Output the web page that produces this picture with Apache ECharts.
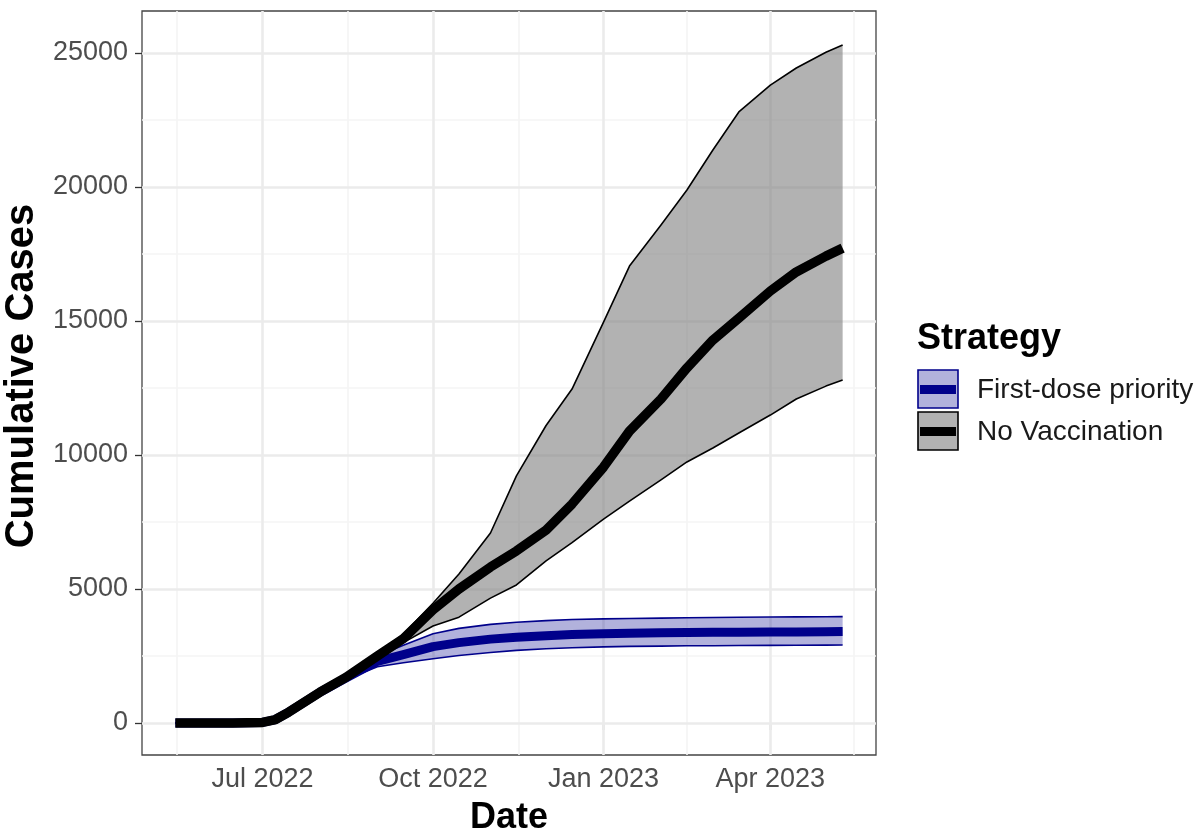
<!DOCTYPE html>
<html>
<head>
<meta charset="utf-8">
<title>Cumulative Cases by Strategy</title>
<script src="https://cdn.jsdelivr.net/npm/echarts@6.0.0/dist/echarts.min.js"></script>
<style>
  html, body { margin: 0; padding: 0; background: #fff; }
  #chart { width: 1198px; height: 830px; }
</style>
</head>
<body>
<div id="chart"></div>
<script>
// sample dates (roughly semi-monthly)
const dates = [
  '2022-05-15', '2022-06-01', '2022-06-15', '2022-07-01', '2022-07-08', '2022-07-15',
  '2022-08-01', '2022-08-15', '2022-09-01', '2022-09-15', '2022-10-01',
  '2022-10-15', '2022-11-01', '2022-11-15', '2022-12-01', '2022-12-15',
  '2023-01-01', '2023-01-15', '2023-02-01', '2023-02-15', '2023-03-01',
  '2023-03-15', '2023-04-01', '2023-04-15', '2023-05-01', '2023-05-10'
];

// No Vaccination
const nvMedian = [0, 0, 0, 20, 130, 400, 1150, 1700, 2500, 3150, 4220, 5000, 5820, 6420, 7200, 8170,
  9550, 10890, 12090, 13250, 14290, 15110, 16120, 16830, 17420, 17720];
const nvLower = [0, 0, 0, 20, 125, 390, 1120, 1650, 2420, 3000, 3620, 3950, 4660, 5150, 6050, 6730,
  7610, 8280, 9070, 9740, 10260, 10820, 11490, 12090, 12570, 12800];
const nvUpper = [0, 0, 0, 20, 140, 420, 1200, 1780, 2620, 3320, 4470, 5560, 7090, 9220, 11100, 12460,
  14960, 17050, 18580, 19890, 21380, 22800, 23800, 24440, 25030, 25300];

// First-dose priority
const fdMedian = [0, 0, 0, 20, 130, 400, 1150, 1680, 2300, 2550, 2850, 3000, 3130, 3200, 3260, 3300,
  3330, 3350, 3365, 3375, 3385, 3390, 3395, 3400, 3405, 3410];
const fdLower = [0, 0, 0, 20, 125, 390, 1110, 1620, 2100, 2250, 2400, 2520, 2630, 2710, 2770, 2810,
  2840, 2860, 2870, 2880, 2885, 2890, 2895, 2900, 2905, 2910];
const fdUpper = [0, 0, 0, 20, 135, 410, 1190, 1720, 2500, 2900, 3330, 3530, 3680, 3760, 3820, 3860,
  3885, 3900, 3915, 3925, 3935, 3945, 3955, 3960, 3965, 3970];

const xTickDates = ['2022-07-01', '2022-10-01', '2023-01-01', '2023-04-01'];
const xTickLabels = ['Jul 2022', 'Oct 2022', 'Jan 2023', 'Apr 2023'];
const xMinorDates = ['2022-05-16', '2022-08-16', '2022-11-16', '2023-02-15', '2023-05-16'];
const yTicks = [0, 5000, 10000, 15000, 20000, 25000];
const yMinor = [2500, 7500, 12500, 17500, 22500];

const FONT = '"Liberation Sans", Arial, Helvetica, sans-serif';
const DARKBLUE = '#00008B';

function ts(s) {
  const p = s.split('-').map(Number);
  return Date.UTC(p[0], p[1] - 1, p[2]);
}
const pairs = (vals) => dates.map((d, i) => [ts(d), vals[i]]);
const xTickValues = xTickDates.map(ts);

// ribbon between lo and hi, drawn once as a polygon through the axis scales
function ribbon(name, lo, hi, fill, stroke, z) {
  return {
    name, type: 'custom', z, silent: true, clip: true,
    data: dates.map((d, i) => [ts(d), lo[i], hi[i]]),
    encode: { x: 0, y: [1, 2] },
    renderItem: (params, api) => {
      if (params.dataIndex !== 0) return;
      const top = dates.map((d, i) => api.coord([ts(d), hi[i]]));
      const bot = dates.map((d, i) => api.coord([ts(d), lo[i]]));
      const line = { stroke, lineWidth: 1.6, fill: null, lineJoin: 'round' };
      return {
        type: 'group',
        children: [
          { type: 'polygon', shape: { points: top.concat(bot.slice().reverse()) }, style: { fill } },
          { type: 'polyline', shape: { points: top }, style: line },
          { type: 'polyline', shape: { points: bot }, style: line }
        ]
      };
    }
  };
}

const chart = echarts.init(document.getElementById('chart'), null, { renderer: 'canvas' });

const gridLine = (color, width) => ({ color, width, type: 'solid' });

const option = {
  animation: false,
  backgroundColor: '#fff',
  textStyle: { fontFamily: FONT },
  grid: {
    left: 142, top: 11, width: 734, height: 744,
    show: true, backgroundColor: '#fff', borderColor: '#444', borderWidth: 1.3,
    outerBoundsMode: 'none'
  },
  xAxis: {
    type: 'value',
    min: ts('2022-04-27'),
    max: ts('2023-05-28'),
    name: 'Date',
    nameLocation: 'middle',
    nameGap: 45,
    nameTextStyle: { fontFamily: FONT, fontSize: 36, fontWeight: 'bold', color: '#000' },
    axisLine: { show: false },
    axisTick: { show: true, length: 7, customValues: xTickValues, lineStyle: { color: '#333', width: 1.3 } },
    axisLabel: {
      customValues: xTickValues,
      margin: 11,
      fontFamily: FONT, fontSize: 27, color: '#4D4D4D',
      formatter: (v) => {
        const i = xTickValues.findIndex((t) => Math.abs(t - v) < 1000);
        return i >= 0 ? xTickLabels[i] : '';
      }
    },
    splitLine: { show: false }
  },
  yAxis: {
    type: 'value',
    min: -1194,
    max: 26567,
    name: 'Cumulative Cases',
    nameLocation: 'middle',
    nameGap: 95,
    nameTextStyle: {
      fontFamily: FONT, fontSize: 40, fontWeight: 'bold', color: '#000',
      padding: [0, 0, 0, 14]
    },
    axisLine: { show: false },
    axisTick: { show: true, length: 7, customValues: yTicks, lineStyle: { color: '#333', width: 1.3 } },
    axisLabel: {
      customValues: yTicks, margin: 14, fontFamily: FONT, fontSize: 27, color: '#4D4D4D',
      formatter: (v) => String(v)
    },
    splitLine: { show: false }
  },
  series: [
    {
      // panel grid lines
      name: 'grid', type: 'line', data: [], z: 1, silent: true,
      markLine: {
        z: 1, silent: true, symbol: ['none', 'none'], label: { show: false }, animation: false,
        data: [
          ...xMinorDates.map((d) => ({ xAxis: ts(d), lineStyle: gridLine('#F4F4F4', 1.6) })),
          ...yMinor.map((v) => ({ yAxis: v, lineStyle: gridLine('#F4F4F4', 1.6) })),
          ...xTickValues.map((t) => ({ xAxis: t, lineStyle: gridLine('#EBEBEB', 2.6) })),
          ...yTicks.map((v) => ({ yAxis: v, lineStyle: gridLine('#EBEBEB', 2.6) }))
        ]
      }
    },
    ribbon('No Vaccination band', nvLower, nvUpper, 'rgba(127,127,127,0.6)', '#000', 2),
    ribbon('First-dose priority band', fdLower, fdUpper, 'rgba(0,0,139,0.3)', DARKBLUE, 3),
    {
      name: 'First-dose priority', type: 'line', data: pairs(fdMedian), z: 4,
      showSymbol: false, symbol: 'none', lineStyle: { color: DARKBLUE, width: 9, join: 'round', cap: 'butt' }
    },
    {
      name: 'No Vaccination', type: 'line', data: pairs(nvMedian), z: 5,
      showSymbol: false, symbol: 'none', lineStyle: { color: '#000', width: 9.5, join: 'round', cap: 'butt' }
    }
  ],
  graphic: [
    { type: 'text', left: 917, top: 321, style: { text: 'Strategy', font: 'bold 36px ' + FONT, fill: '#000' } },
    // First-dose priority key
    { type: 'rect', shape: { x: 918, y: 370, width: 40, height: 38 },
      style: { fill: 'rgba(0,0,139,0.3)', stroke: DARKBLUE, lineWidth: 1.6 } },
    { type: 'rect', shape: { x: 920, y: 385, width: 36, height: 9 }, style: { fill: DARKBLUE } },
    { type: 'text', x: 977, y: 390,
      style: { text: 'First-dose priority', font: '28px ' + FONT, fill: '#1a1a1a', verticalAlign: 'middle' } },
    // No Vaccination key
    { type: 'rect', shape: { x: 918, y: 412, width: 40, height: 38 },
      style: { fill: 'rgba(127,127,127,0.6)', stroke: '#000', lineWidth: 1.6 } },
    { type: 'rect', shape: { x: 920, y: 427, width: 36, height: 9 }, style: { fill: '#000' } },
    { type: 'text', x: 977, y: 432,
      style: { text: 'No Vaccination', font: '28px ' + FONT, fill: '#1a1a1a', verticalAlign: 'middle' } }
  ]
};

chart.setOption(option);
</script>
</body>
</html>
